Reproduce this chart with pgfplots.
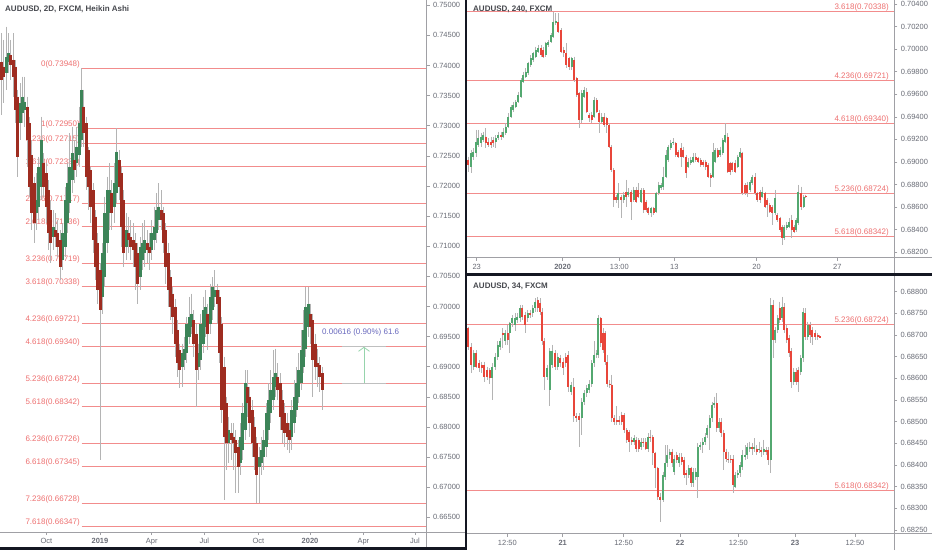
\documentclass[border=0pt]{standalone}
\usepackage{pgfplots}
\pgfplotsset{compat=1.18}
\usepackage{pgfplotstable}
\usepackage{fontspec}
\setmainfont{Liberation Sans}
\usetikzlibrary{arrows.meta}
\definecolor{fib}{RGB}{242,140,140}
\definecolor{fibtxt}{RGB}{238,112,112}
\definecolor{haup}{RGB}{60,132,88}
\definecolor{hadn}{RGB}{158,44,32}
\definecolor{up}{RGB}{83,168,112}
\definecolor{dn}{RGB}{232,70,58}
\definecolor{wick}{RGB}{180,180,180}
\definecolor{axgray}{RGB}{160,160,165}
\definecolor{lbl}{RGB}{105,108,118}
\definecolor{sep}{RGB}{20,23,34}
\definecolor{meas}{RGB}{105,105,190}
\definecolor{arrowg}{RGB}{150,212,172}
\definecolor{ttl}{RGB}{70,72,78}

\pgfplotstableread{
x o h l c
4 0.74064 0.74535 0.73178 0.73760
11 0.73981 0.74424 0.73372 0.73815
18 0.73870 0.74646 0.73594 0.74147
25 0.74064 0.74535 0.73870 0.74203
32 0.74175 0.74424 0.73760 0.74009
39 0.74092 0.74535 0.73483 0.73815
46 0.73981 0.74092 0.73040 0.73261
53 0.73483 0.73594 0.72154 0.72486
60 0.73040 0.73704 0.72763 0.73372
67 0.73206 0.73815 0.73040 0.73483
74 0.73261 0.73815 0.72985 0.73400
81 0.73317 0.73483 0.72320 0.72763
88 0.73040 0.73151 0.71822 0.71988
95 0.72514 0.72763 0.71268 0.71545
102 0.72043 0.72154 0.71047 0.71379
109 0.71545 0.72209 0.71268 0.71766
116 0.71656 0.72486 0.71434 0.72320
123 0.71988 0.73151 0.71766 0.72763
131 0.72375 0.72542 0.71822 0.71988
138 0.72209 0.72375 0.71379 0.71656
145 0.71932 0.72099 0.70936 0.71213
152 0.71600 0.71766 0.70715 0.71047
159 0.71157 0.71600 0.70936 0.71323
166 0.71268 0.71545 0.70991 0.71157
173 0.71213 0.71434 0.70825 0.70991
180 0.71102 0.71268 0.70438 0.70659
188 0.70770 0.71379 0.70604 0.71213
195 0.70991 0.71988 0.70825 0.71766
202 0.71379 0.72375 0.71213 0.72043
209 0.71711 0.72874 0.71545 0.72320
216 0.72099 0.72985 0.71877 0.72542
223 0.72431 0.72763 0.72043 0.72264
230 0.72375 0.72985 0.72154 0.72652
237 0.72514 0.73317 0.72320 0.73040
244 0.72763 0.73953 0.72652 0.73594
251 0.73317 0.73594 0.72652 0.72874
258 0.73040 0.73151 0.71932 0.72154
265 0.72597 0.72652 0.71600 0.71988
272 0.72264 0.72320 0.71379 0.71656
279 0.71932 0.72043 0.70880 0.71102
286 0.71490 0.71600 0.70438 0.70659
293 0.71047 0.71213 0.70047 0.70268
300 0.70599 0.70715 0.67454 0.69937
307 0.70158 0.71047 0.69882 0.70880
314 0.70493 0.71822 0.70323 0.71545
321 0.71047 0.72154 0.70880 0.71932
328 0.71545 0.72375 0.71268 0.71932
335 0.71877 0.72099 0.71268 0.71545
342 0.71656 0.72375 0.71379 0.72043
349 0.71877 0.72957 0.71711 0.72569
357 0.72431 0.72597 0.71766 0.71988
364 0.72209 0.72320 0.70991 0.71323
371 0.71766 0.71932 0.70659 0.70880
378 0.70991 0.71545 0.70770 0.71268
385 0.71213 0.71490 0.70880 0.71102
392 0.71157 0.71434 0.70770 0.70991
399 0.71102 0.71379 0.70659 0.70936
406 0.71047 0.71213 0.70268 0.70659
413 0.70880 0.71047 0.70047 0.70379
420 0.70489 0.71157 0.70268 0.70991
427 0.70770 0.71379 0.70599 0.71047
434 0.70880 0.71434 0.70659 0.71102
441 0.71047 0.71268 0.70715 0.70936
448 0.70991 0.71213 0.70604 0.70880
455 0.70936 0.71434 0.70770 0.71213
462 0.71102 0.71656 0.70936 0.71323
469 0.71213 0.71877 0.71047 0.71600
476 0.71434 0.72043 0.71268 0.71656
483 0.71600 0.71932 0.71268 0.71434
490 0.71545 0.71656 0.70880 0.71047
497 0.71268 0.71379 0.70379 0.70659
504 0.70880 0.71047 0.69992 0.70268
511 0.70489 0.70599 0.69771 0.69992
518 0.70213 0.70323 0.69551 0.69827
525 0.69992 0.70130 0.69164 0.69385
532 0.69606 0.69771 0.68833 0.69054
539 0.69275 0.69385 0.68640 0.68944
546 0.68999 0.69385 0.68668 0.69220
553 0.69109 0.69496 0.68944 0.69302
560 0.69220 0.69827 0.69054 0.69716
567 0.69496 0.70158 0.69385 0.69827
574 0.69661 0.70213 0.69551 0.69882
581 0.69771 0.69937 0.69164 0.69385
588 0.69551 0.69716 0.68337 0.68944
595 0.68999 0.69385 0.68778 0.69220
602 0.69109 0.69882 0.68944 0.69716
609 0.69385 0.70158 0.69220 0.69937
616 0.69661 0.70268 0.69496 0.69992
623 0.69882 0.70047 0.69275 0.69551
630 0.69716 0.70379 0.69551 0.70158
637 0.69937 0.70489 0.69771 0.70323
644 0.70158 0.70599 0.69992 0.70268
651 0.70268 0.70379 0.69716 0.70047
658 0.70158 0.70268 0.69054 0.69220
665 0.69716 0.69827 0.68061 0.68281
672 0.68999 0.69164 0.66791 0.67840
679 0.68392 0.68502 0.67288 0.67729
686 0.67729 0.68171 0.67398 0.67950
693 0.67895 0.68061 0.67454 0.67785
700 0.67840 0.68061 0.67288 0.67729
707 0.67785 0.67950 0.66902 0.67564
714 0.67674 0.67785 0.66902 0.67343
721 0.67398 0.68061 0.67205 0.67840
728 0.67619 0.68392 0.67454 0.68226
735 0.67950 0.68944 0.67785 0.68723
742 0.68668 0.68944 0.68171 0.68392
749 0.68502 0.68668 0.67840 0.68061
756 0.68281 0.68447 0.67509 0.67729
763 0.68005 0.68171 0.67288 0.67509
770 0.67729 0.67840 0.66736 0.67205
777 0.67343 0.67674 0.66736 0.67509
784 0.67398 0.67840 0.67205 0.67619
791 0.67509 0.67950 0.67288 0.67785
798 0.67674 0.68392 0.67509 0.68226
805 0.67950 0.68723 0.67785 0.68447
812 0.68226 0.68944 0.68061 0.68613
819 0.68447 0.69275 0.68281 0.68833
826 0.68668 0.69302 0.68502 0.68888
833 0.68833 0.69054 0.68447 0.68613
840 0.68723 0.68888 0.67950 0.68171
847 0.68447 0.68613 0.67729 0.67950
854 0.68226 0.68392 0.67674 0.67895
861 0.68061 0.68226 0.67619 0.67840
868 0.67950 0.68061 0.67564 0.67785
875 0.67840 0.68447 0.67619 0.68281
882 0.68061 0.68778 0.67895 0.68502
889 0.68281 0.68999 0.68171 0.68723
896 0.68502 0.69220 0.68392 0.68944
903 0.68723 0.69606 0.68613 0.69275
910 0.68999 0.69937 0.68888 0.69606
917 0.69302 0.70323 0.69164 0.69992
924 0.69661 0.70323 0.69496 0.70047
931 0.69882 0.70047 0.69385 0.69661
938 0.69771 0.69882 0.68502 0.69109
945 0.69385 0.69551 0.68778 0.68999
952 0.69054 0.69302 0.68668 0.68999
959 0.69027 0.69164 0.68585 0.68833
966 0.68888 0.68999 0.68281 0.68613
}\tblL

\pgfplotstableread{
x o h l c
10 0.69018 0.69048 0.68915 0.68974
18 0.68959 0.69107 0.68900 0.69077
25 0.69048 0.69121 0.69018 0.69092
33 0.69077 0.69284 0.69048 0.69180
40 0.69151 0.69284 0.69136 0.69210
48 0.69166 0.69254 0.69136 0.69225
55 0.69195 0.69269 0.69180 0.69239
62 0.69225 0.69298 0.69121 0.69166
70 0.69180 0.69210 0.69136 0.69151
78 0.69180 0.69225 0.69121 0.69151
85 0.69195 0.69225 0.69136 0.69166
92 0.69180 0.69239 0.69121 0.69210
100 0.69210 0.69269 0.69195 0.69239
108 0.69239 0.69269 0.69195 0.69225
115 0.69225 0.69298 0.69210 0.69269
122 0.69254 0.69343 0.69239 0.69313
130 0.69313 0.69431 0.69298 0.69402
138 0.69402 0.69505 0.69387 0.69490
145 0.69461 0.69535 0.69446 0.69505
152 0.69490 0.69550 0.69476 0.69535
160 0.69535 0.69623 0.69520 0.69594
168 0.69579 0.69741 0.69565 0.69727
175 0.69712 0.69801 0.69697 0.69771
182 0.69756 0.69830 0.69741 0.69801
190 0.69786 0.69889 0.69771 0.69874
197 0.69860 0.69948 0.69845 0.69919
205 0.69904 0.69978 0.69889 0.69963
212 0.69933 0.70022 0.69919 0.69992
220 0.69978 0.70037 0.69963 0.70007
228 0.70007 0.70037 0.69933 0.69948
235 0.69992 0.70022 0.69919 0.69933
242 0.69948 0.70066 0.69933 0.70052
250 0.70037 0.70081 0.70022 0.70066
258 0.70066 0.70140 0.70052 0.70125
265 0.70111 0.70332 0.70096 0.70243
272 0.70229 0.70317 0.70214 0.70252
280 0.70243 0.70317 0.70140 0.70155
288 0.70170 0.70184 0.69963 0.69978
296 0.69992 0.70022 0.69933 0.69963
304 0.69963 0.70052 0.69830 0.69860
312 0.69919 0.69933 0.69815 0.69845
320 0.69845 0.69933 0.69815 0.69919
328 0.69904 0.69933 0.69712 0.69727
335 0.69741 0.69756 0.69579 0.69594
342 0.69609 0.69623 0.69298 0.69372
350 0.69372 0.69638 0.69343 0.69609
357 0.69579 0.69668 0.69565 0.69638
365 0.69623 0.69653 0.69431 0.69446
372 0.69417 0.69431 0.69358 0.69387
380 0.69417 0.69446 0.69343 0.69372
388 0.69402 0.69579 0.69387 0.69550
395 0.69550 0.69565 0.69431 0.69446
403 0.69431 0.69461 0.69254 0.69358
410 0.69358 0.69431 0.69343 0.69402
417 0.69402 0.69431 0.69313 0.69328
425 0.69387 0.69402 0.69254 0.69328
432 0.69328 0.69343 0.69121 0.69136
439 0.69136 0.69151 0.68915 0.68929
446 0.68929 0.68944 0.68605 0.68664
453 0.68693 0.68708 0.68634 0.68664
460 0.68664 0.68811 0.68590 0.68723
468 0.68693 0.68708 0.68501 0.68664
476 0.68664 0.68737 0.68634 0.68708
483 0.68737 0.68841 0.68605 0.68693
490 0.68708 0.68767 0.68693 0.68737
498 0.68737 0.68752 0.68486 0.68649
506 0.68664 0.68782 0.68649 0.68752
513 0.68752 0.68782 0.68634 0.68649
520 0.68752 0.68811 0.68678 0.68693
528 0.68649 0.68767 0.68634 0.68752
536 0.68752 0.68767 0.68546 0.68575
543 0.68649 0.68664 0.68560 0.68575
550 0.68590 0.68605 0.68531 0.68546
558 0.68546 0.68605 0.68516 0.68590
566 0.68590 0.68605 0.68531 0.68546
573 0.68560 0.68737 0.68546 0.68723
581 0.68723 0.68826 0.68708 0.68797
588 0.68767 0.68811 0.68752 0.68797
595 0.68782 0.68959 0.68752 0.68870
603 0.68870 0.69107 0.68856 0.69062
610 0.69018 0.69151 0.69003 0.69136
617 0.69121 0.69195 0.69107 0.69166
625 0.69166 0.69210 0.69151 0.69180
632 0.69166 0.69180 0.69048 0.69062
640 0.69092 0.69107 0.69033 0.69048
648 0.69121 0.69166 0.68959 0.69048
655 0.69107 0.69136 0.69033 0.69048
663 0.69048 0.69062 0.68856 0.68900
670 0.68959 0.69033 0.68944 0.69003
677 0.68988 0.69048 0.68974 0.69018
685 0.69003 0.69077 0.68988 0.69048
692 0.69048 0.69077 0.69003 0.69018
700 0.69033 0.69048 0.68988 0.69003
707 0.69018 0.69033 0.68959 0.68974
714 0.69003 0.69018 0.68959 0.68974
722 0.69003 0.69018 0.68929 0.68959
729 0.68974 0.68988 0.68856 0.68870
737 0.68885 0.68900 0.68782 0.68856
744 0.68870 0.69166 0.68856 0.69092
751 0.69003 0.69121 0.68988 0.69107
758 0.69107 0.69121 0.69033 0.69048
766 0.69062 0.69136 0.69048 0.69107
773 0.69077 0.69210 0.69062 0.69195
780 0.69180 0.69343 0.69166 0.69239
788 0.69225 0.69254 0.68900 0.68915
795 0.68988 0.69003 0.68885 0.68915
802 0.68988 0.69003 0.68915 0.68929
810 0.68988 0.69018 0.68900 0.68915
818 0.68959 0.69062 0.68944 0.69048
825 0.69048 0.69121 0.69033 0.69092
832 0.69077 0.69092 0.68708 0.68723
840 0.68797 0.68811 0.68708 0.68723
847 0.68797 0.68826 0.68693 0.68723
855 0.68752 0.68841 0.68737 0.68826
862 0.68811 0.68885 0.68797 0.68870
870 0.68870 0.68900 0.68708 0.68723
877 0.68723 0.68737 0.68649 0.68664
885 0.68737 0.68752 0.68634 0.68664
892 0.68693 0.68782 0.68678 0.68737
900 0.68723 0.68737 0.68590 0.68605
907 0.68664 0.68678 0.68516 0.68619
914 0.68619 0.68634 0.68546 0.68560
922 0.68605 0.68619 0.68442 0.68546
930 0.68546 0.68752 0.68531 0.68678
937 0.68531 0.68546 0.68472 0.68486
945 0.68501 0.68516 0.68383 0.68398
952 0.68427 0.68442 0.68265 0.68324
958 0.68324 0.68442 0.68309 0.68427
965 0.68413 0.68472 0.68398 0.68442
972 0.68427 0.68501 0.68413 0.68472
980 0.68486 0.68531 0.68324 0.68398
987 0.68427 0.68442 0.68369 0.68383
994 0.68398 0.68501 0.68383 0.68486
1000 0.68457 0.68797 0.68442 0.68737
1008 0.68723 0.68782 0.68575 0.68605
1016 0.68605 0.68708 0.68590 0.68693
1022 0.68699 0.68708 0.68678 0.68687
}\tblTR

\pgfplotstableread{
x o h l c
10 0.68715 0.68719 0.68665 0.68673
18 0.68673 0.68681 0.68612 0.68631
26 0.68627 0.68665 0.68619 0.68658
34 0.68658 0.68665 0.68623 0.68627
42 0.68635 0.68642 0.68615 0.68623
50 0.68631 0.68638 0.68612 0.68623
58 0.68631 0.68638 0.68592 0.68604
66 0.68619 0.68627 0.68596 0.68604
74 0.68619 0.68623 0.68588 0.68600
82 0.68600 0.68635 0.68550 0.68627
90 0.68627 0.68658 0.68619 0.68650
98 0.68650 0.68685 0.68642 0.68677
106 0.68673 0.68692 0.68665 0.68685
113 0.68704 0.68715 0.68669 0.68700
120 0.68685 0.68712 0.68677 0.68704
128 0.68704 0.68723 0.68677 0.68688
134 0.68704 0.68731 0.68658 0.68727
142 0.68727 0.68746 0.68719 0.68738
150 0.68723 0.68750 0.68708 0.68738
157 0.68735 0.68750 0.68727 0.68742
165 0.68738 0.68769 0.68731 0.68762
172 0.68762 0.68769 0.68735 0.68742
180 0.68746 0.68754 0.68704 0.68723
188 0.68738 0.68758 0.68731 0.68750
195 0.68750 0.68758 0.68738 0.68746
203 0.68750 0.68769 0.68742 0.68762
210 0.68762 0.68785 0.68754 0.68777
218 0.68781 0.68788 0.68754 0.68762
225 0.68773 0.68785 0.68746 0.68754
232 0.68754 0.68762 0.68677 0.68685
238 0.68685 0.68692 0.68573 0.68604
246 0.68604 0.68631 0.68596 0.68623
254 0.68573 0.68669 0.68535 0.68662
262 0.68631 0.68677 0.68623 0.68662
270 0.68658 0.68665 0.68619 0.68627
278 0.68627 0.68658 0.68619 0.68650
286 0.68646 0.68654 0.68627 0.68635
294 0.68638 0.68646 0.68608 0.68623
302 0.68650 0.68658 0.68627 0.68635
310 0.68654 0.68662 0.68569 0.68581
318 0.68569 0.68592 0.68562 0.68585
326 0.68581 0.68600 0.68500 0.68512
334 0.68512 0.68519 0.68500 0.68508
342 0.68512 0.68519 0.68442 0.68504
350 0.68508 0.68554 0.68469 0.68546
358 0.68546 0.68573 0.68538 0.68565
365 0.68565 0.68585 0.68558 0.68577
372 0.68573 0.68596 0.68565 0.68588
380 0.68588 0.68642 0.68581 0.68635
387 0.68635 0.68685 0.68627 0.68654
395 0.68654 0.68665 0.68646 0.68658
400 0.68654 0.68746 0.68646 0.68738
407 0.68738 0.68742 0.68673 0.68681
414 0.68704 0.68715 0.68658 0.68665
420 0.68704 0.68708 0.68631 0.68638
427 0.68638 0.68654 0.68581 0.68588
434 0.68588 0.68596 0.68577 0.68585
440 0.68585 0.68608 0.68500 0.68508
448 0.68508 0.68515 0.68492 0.68500
455 0.68504 0.68535 0.68492 0.68500
462 0.68504 0.68512 0.68492 0.68500
470 0.68515 0.68523 0.68492 0.68500
477 0.68515 0.68519 0.68473 0.68481
485 0.68481 0.68485 0.68450 0.68458
492 0.68477 0.68481 0.68431 0.68454
500 0.68458 0.68465 0.68446 0.68454
507 0.68454 0.68469 0.68446 0.68462
514 0.68458 0.68465 0.68431 0.68438
521 0.68458 0.68462 0.68431 0.68438
528 0.68442 0.68462 0.68435 0.68454
535 0.68454 0.68462 0.68442 0.68450
542 0.68454 0.68462 0.68435 0.68438
549 0.68438 0.68473 0.68431 0.68465
556 0.68465 0.68481 0.68454 0.68462
563 0.68465 0.68469 0.68400 0.68427
570 0.68427 0.68431 0.68346 0.68392
578 0.68392 0.68396 0.68319 0.68327
586 0.68327 0.68335 0.68269 0.68319
594 0.68319 0.68385 0.68315 0.68377
600 0.68373 0.68446 0.68365 0.68404
607 0.68404 0.68446 0.68396 0.68423
614 0.68423 0.68438 0.68415 0.68431
621 0.68431 0.68438 0.68396 0.68404
628 0.68385 0.68423 0.68377 0.68415
635 0.68423 0.68431 0.68404 0.68412
642 0.68404 0.68427 0.68396 0.68419
650 0.68419 0.68427 0.68400 0.68408
657 0.68412 0.68419 0.68369 0.68377
664 0.68381 0.68388 0.68354 0.68377
671 0.68377 0.68400 0.68369 0.68392
678 0.68392 0.68396 0.68350 0.68358
685 0.68358 0.68392 0.68350 0.68385
692 0.68373 0.68392 0.68365 0.68385
698 0.68373 0.68450 0.68323 0.68442
706 0.68442 0.68454 0.68435 0.68446
713 0.68446 0.68462 0.68427 0.68454
720 0.68454 0.68473 0.68446 0.68465
727 0.68469 0.68492 0.68462 0.68485
734 0.68485 0.68515 0.68435 0.68508
741 0.68508 0.68546 0.68500 0.68538
748 0.68538 0.68558 0.68531 0.68542
755 0.68542 0.68565 0.68477 0.68485
762 0.68485 0.68508 0.68477 0.68500
769 0.68500 0.68508 0.68465 0.68473
776 0.68473 0.68481 0.68388 0.68431
783 0.68431 0.68438 0.68408 0.68415
790 0.68415 0.68431 0.68404 0.68412
797 0.68415 0.68423 0.68404 0.68412
804 0.68415 0.68423 0.68335 0.68354
811 0.68350 0.68385 0.68346 0.68377
818 0.68377 0.68388 0.68369 0.68381
825 0.68381 0.68408 0.68373 0.68400
832 0.68396 0.68435 0.68388 0.68423
840 0.68419 0.68446 0.68412 0.68423
847 0.68423 0.68450 0.68415 0.68442
854 0.68438 0.68454 0.68431 0.68442
861 0.68442 0.68450 0.68423 0.68438
868 0.68438 0.68462 0.68431 0.68442
875 0.68438 0.68446 0.68423 0.68431
882 0.68435 0.68454 0.68427 0.68438
889 0.68435 0.68442 0.68419 0.68431
896 0.68431 0.68458 0.68423 0.68438
903 0.68435 0.68442 0.68423 0.68431
910 0.68435 0.68442 0.68400 0.68412
917 0.68412 0.68785 0.68381 0.68769
924 0.68769 0.68781 0.68646 0.68688
931 0.68688 0.68719 0.68681 0.68712
938 0.68712 0.68746 0.68704 0.68738
944 0.68762 0.68777 0.68727 0.68735
951 0.68738 0.68788 0.68731 0.68765
958 0.68765 0.68773 0.68704 0.68712
965 0.68715 0.68723 0.68681 0.68688
972 0.68692 0.68700 0.68650 0.68658
979 0.68662 0.68669 0.68577 0.68592
986 0.68592 0.68623 0.68585 0.68615
993 0.68615 0.68623 0.68585 0.68592
1000 0.68619 0.68627 0.68569 0.68592
1007 0.68615 0.68654 0.68608 0.68646
1014 0.68646 0.68762 0.68638 0.68754
1021 0.68750 0.68762 0.68688 0.68696
1028 0.68696 0.68731 0.68688 0.68723
1035 0.68723 0.68731 0.68681 0.68700
1042 0.68712 0.68719 0.68677 0.68696
1050 0.68704 0.68712 0.68688 0.68696
1058 0.68700 0.68704 0.68688 0.68696
1064 0.68697 0.68700 0.68692 0.68694
}\tblBR

\pgfplotsset{
  tvaxis/.style={
    scale only axis, anchor=south west,
    axis line style={draw=none},
    tick align=outside, major tick length=3pt,
    tick style={axgray, line width=0.6pt},
    xtick pos=left, ytick pos=right, yticklabel pos=right,
    ticklabel style={font=\fontsize{7.5}{9}\selectfont, text=lbl},
    yticklabel style={anchor=west, xshift=0pt},
    scaled y ticks=false,
    yticklabel={\pgfmathprintnumber[fixed,fixed zerofill,precision=5,assume math mode=true]{\tick}},
  },
}
\newcommand\candles[5]{%
  \addplot[draw=none, mark=none, forget plot,
    error bars/.cd, y dir=minus, y explicit, error mark=none,
    error bar style={draw=wick, line width=#5, solid}]
    table[x=x, y=h, y error minus expr=\thisrow{h}-\thisrow{l}] {#1};
  \addplot[draw=none, mark=none, forget plot,
    restrict expr to domain={\thisrow{c}-\thisrow{o}}{0:1},
    error bars/.cd, y dir=minus, y explicit, error mark=none,
    error bar style={draw=#2, line width=#4, solid}]
    table[x=x, y=c, y error minus expr=\thisrow{c}-\thisrow{o}] {#1};
  \addplot[draw=none, mark=none, forget plot,
    restrict expr to domain={\thisrow{c}-\thisrow{o}}{-1:0},
    error bars/.cd, y dir=minus, y explicit, error mark=none,
    error bar style={draw=#3, line width=#4, solid}]
    table[x=x, y=o, y error minus expr=\thisrow{o}-\thisrow{c}] {#1};
}
\newcommand\fibL[2]{%
  \addplot[fib, line width=0.75pt, mark=none, forget plot] coordinates {(245,#1) (1290,#1)};
  \node[anchor=east, inner sep=0pt, text=fibtxt, font=\fontsize{8}{9}\selectfont] at (axis cs:240,#1) [yshift=4pt] {#2(#1)};
}
\newcommand\fibR[3]{%
  \addplot[fib, line width=0.75pt, mark=none, forget plot] coordinates {(0,#1) (1300,#1)};
  \node[anchor=east, inner sep=0pt, text=fibtxt, font=\fontsize{8}{9}\selectfont] at (axis cs:#3,#1) [yshift=4pt] {#2(#1)};
}

\begin{document}
\begin{tikzpicture}
\fill[white] (0pt,0pt) rectangle (932pt,550pt);
\path[use as bounding box] (0pt,0pt) rectangle (932pt,550pt);
\coordinate (PL) at (0pt,18pt);
\coordinate (PTR) at (467pt,292.5pt);
\coordinate (PBR) at (467pt,16.5pt);

% ---------------- left panel ----------------
\begin{axis}[tvaxis, at={(PL)}, width=426.5pt, height=532pt,
  xmin=0, xmax=1279.5, ymin=0.66256, ymax=0.75088,
  ytick={0.665,0.670,0.675,0.680,0.685,0.690,0.695,0.700,0.705,0.710,0.715,0.720,0.725,0.730,0.735,0.740,0.745,0.750},
  xtick={139,300,455,613,775,930,1090,1245},
  xticklabels={Oct,\textbf{2019},Apr,Jul,Oct,\textbf{2020},Apr,Jul}]
\fibL{0.73948}{0}
\fibL{0.72950}{1}
\fibL{0.72715}{1.236}
\fibL{0.72331}{1.618}
\fibL{0.71717}{2.236}
\fibL{0.71336}{2.618}
\fibL{0.70719}{3.236}
\fibL{0.70338}{3.618}
\fibL{0.69721}{4.236}
\fibL{0.69340}{4.618}
\fibL{0.68724}{5.236}
\fibL{0.68342}{5.618}
\fibL{0.67726}{6.236}
\fibL{0.67345}{6.618}
\fibL{0.66728}{7.236}
\fibL{0.66347}{7.618}
\candles{\tblL}{haup}{hadn}{3pt}{0.75pt}
\draw[black!25, line width=0.8pt] (axis cs:1026,0.69340) -- (axis cs:1158,0.69340);
\draw[black!25, line width=0.8pt] (axis cs:1026,0.68724) -- (axis cs:1158,0.68724);
\draw[arrowg, line width=0.8pt, -{Straight Barb[length=4pt,width=11pt]}] (axis cs:1092,0.68724) -- (axis cs:1092,0.69330);
\node[anchor=west, inner sep=0pt, text=meas, font=\fontsize{8}{9}\selectfont] at (axis cs:966,0.69563) {0.00616 (0.90\%) 61.6};
\end{axis}

% ---------------- top right panel ----------------
\begin{axis}[tvaxis, at={(PTR)}, width=427.3pt, height=257.5pt,
  xmin=6, xmax=1288, ymin=0.68154, ymax=0.70435,
  ytick={0.682,0.684,0.686,0.688,0.690,0.692,0.694,0.696,0.698,0.700,0.702,0.704},
  xtick={35,293,463,628,875,1117},
  xticklabels={23,\textbf{2020},13:00,13,20,27}]
\fibR{0.70338}{3.618}{1272}
\fibR{0.69721}{4.236}{1272}
\fibR{0.69340}{4.618}{1272}
\fibR{0.68724}{5.236}{1272}
\fibR{0.68342}{5.618}{1272}
\candles{\tblTR}{up}{dn}{2pt}{0.6pt}
\end{axis}

% ---------------- bottom right panel ----------------
\begin{axis}[tvaxis, at={(PBR)}, width=427pt, height=257.5pt,
  xmin=6, xmax=1287, ymin=0.68242, ymax=0.68836,
  ytick={0.6825,0.6830,0.6835,0.6840,0.6845,0.6850,0.6855,0.6860,0.6865,0.6870,0.6875,0.6880},
  xtick={127,293,476,645,820,990,1170},
  xticklabels={12:50,\textbf{21},12:50,\textbf{22},12:50,\textbf{23},12:50}]
\fibR{0.68724}{5.236}{1272}
\fibR{0.68342}{5.618}{1272}
\candles{\tblBR}{up}{dn}{2pt}{0.6pt}
\end{axis}

% ---------------- frame lines ----------------
\draw[axgray, line width=0.9pt] (426.5pt,3pt) -- (426.5pt,550pt);
\draw[axgray, line width=0.9pt] (0pt,18pt) -- (465pt,18pt);
\draw[axgray, line width=0.9pt] (894.3pt,277pt) -- (894.3pt,550pt);
\draw[axgray, line width=0.9pt] (467pt,292.5pt) -- (932pt,292.5pt);
\draw[axgray, line width=0.9pt] (894pt,0pt) -- (894pt,274.5pt);
\draw[axgray, line width=0.9pt] (467pt,16.5pt) -- (932pt,16.5pt);
\fill[sep] (464.8pt,0pt) rectangle (467.4pt,550pt);
\fill[sep] (464.8pt,274.4pt) rectangle (932pt,277.2pt);
\fill[sep] (0pt,0pt) rectangle (467pt,2.8pt);

% ---------------- titles ----------------
\node[anchor=west, inner sep=0pt, text=ttl, font=\fontsize{8}{9}\selectfont\bfseries] at (5pt,540.5pt) {AUDUSD, 2D, FXCM, Heikin Ashi};
\node[anchor=west, inner sep=0pt, text=ttl, font=\fontsize{8}{9}\selectfont\bfseries] at (473pt,540.5pt) {AUDUSD, 240, FXCM};
\node[anchor=west, inner sep=0pt, text=ttl, font=\fontsize{8}{9}\selectfont\bfseries] at (473pt,264pt) {AUDUSD, 34, FXCM};
\end{tikzpicture}
\end{document}
